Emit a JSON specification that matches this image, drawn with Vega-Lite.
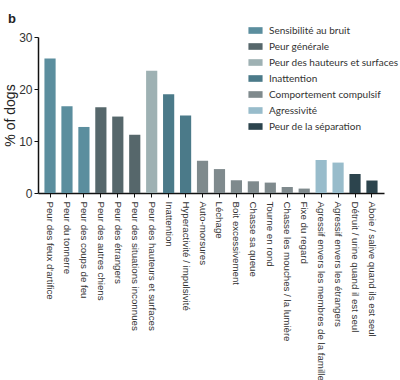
{
  "$schema": "https://vega.github.io/schema/vega-lite/v6.json",
  "autosize": "none",
  "width": 346,
  "height": 156,
  "padding": {"left": 38, "top": 37, "right": 16, "bottom": 187},
  "background": "white",
  "title": {"text": "b", "anchor": "start", "frame": "group", "dx": -30, "offset": -3, "fontSize": 13, "fontWeight": "bold", "font": "Liberation Sans", "color": "#222"},
  "data": {"values": [
    {"item": "Peur des feux d'artifice", "group": "Sensibilité au bruit", "pct": 25.85},
    {"item": "Peur du tonnerre", "group": "Sensibilité au bruit", "pct": 16.7},
    {"item": "Peur des coups de feu", "group": "Sensibilité au bruit", "pct": 12.7},
    {"item": "Peur des autres chiens", "group": "Peur générale", "pct": 16.5},
    {"item": "Peur des étrangers", "group": "Peur générale", "pct": 14.7},
    {"item": "Peur des situations inconnues", "group": "Peur générale", "pct": 11.2},
    {"item": "Peur des hauteurs et surfaces", "group": "Peur des hauteurs et surfaces", "pct": 23.5},
    {"item": "Inattention", "group": "Inattention", "pct": 19.0},
    {"item": "Hyperactivité / impulsivité", "group": "Inattention", "pct": 14.9},
    {"item": "Auto-morsures", "group": "Comportement compulsif", "pct": 6.2},
    {"item": "Léchage", "group": "Comportement compulsif", "pct": 4.6},
    {"item": "Boit excessivement", "group": "Comportement compulsif", "pct": 2.45},
    {"item": "Chasse sa queue", "group": "Comportement compulsif", "pct": 2.25},
    {"item": "Tourne en rond", "group": "Comportement compulsif", "pct": 2.0},
    {"item": "Chasse les mouches / la lumière", "group": "Comportement compulsif", "pct": 1.15},
    {"item": "Fixe du regard", "group": "Comportement compulsif", "pct": 0.85},
    {"item": "Agressif envers les membres de la famille", "group": "Agressivité", "pct": 6.35},
    {"item": "Agressif envers les étrangers", "group": "Agressivité", "pct": 5.85},
    {"item": "Détruit / urine quand il est seul", "group": "Peur de la séparation", "pct": 3.65},
    {"item": "Aboie / salive quand ils est seul", "group": "Peur de la séparation", "pct": 2.4}
  ]},
  "mark": {"type": "bar"},
  "encoding": {
    "x": {
      "field": "item", "type": "nominal", "sort": null,
      "scale": {"paddingInner": 0.34, "paddingOuter": 0.38},
      "axis": {
        "title": null, "labelAngle": 90, "labelAlign": "left", "labelBaseline": "middle",
        "labelFontSize": 9.7, "labelFont": "Liberation Sans", "labelColor": "#333",
        "labelPadding": 4, "tickSize": 4, "tickColor": "#111", "domainColor": "#111", "domainWidth": 1.5, "labelOverlap": false, "labelLimit": 0
      }
    },
    "y": {
      "field": "pct", "type": "quantitative",
      "scale": {"domain": [0, 30], "nice": false},
      "axis": {
        "title": "% of dogs", "values": [0, 10, 20, 30], "grid": false,
        "titleFontSize": 14, "titleFont": "Liberation Sans", "titleFontWeight": "normal", "titleColor": "#222", "titlePadding": 1,
        "labelFontSize": 12, "labelFont": "Liberation Sans", "labelColor": "#333",
        "tickSize": 4, "tickColor": "#111", "domainColor": "#111", "domainWidth": 1.5
      }
    },
    "color": {
      "field": "group", "type": "nominal",
      "scale": {
        "domain": ["Sensibilité au bruit", "Peur générale", "Peur des hauteurs et surfaces", "Inattention", "Comportement compulsif", "Agressivité", "Peur de la séparation"],
        "range": ["#5b8e9e", "#56676b", "#9eb1b3", "#4b7a89", "#7f8a8d", "#98bccb", "#2c444d"]
      },
      "legend": {
        "title": null, "orient": "none", "legendX": 210, "legendY": -14,
        "symbolType": "M-1,-0.47L1,-0.47L1,0.47L-1,0.47Z", "symbolSize": 200, "symbolStrokeWidth": 0,
        "labelFont": "Lato", "labelFontSize": 10, "labelColor": "#333", "labelOffset": 6, "rowPadding": 3, "padding": 0
      }
    }
  },
  "config": {"view": {"stroke": null}}
}
